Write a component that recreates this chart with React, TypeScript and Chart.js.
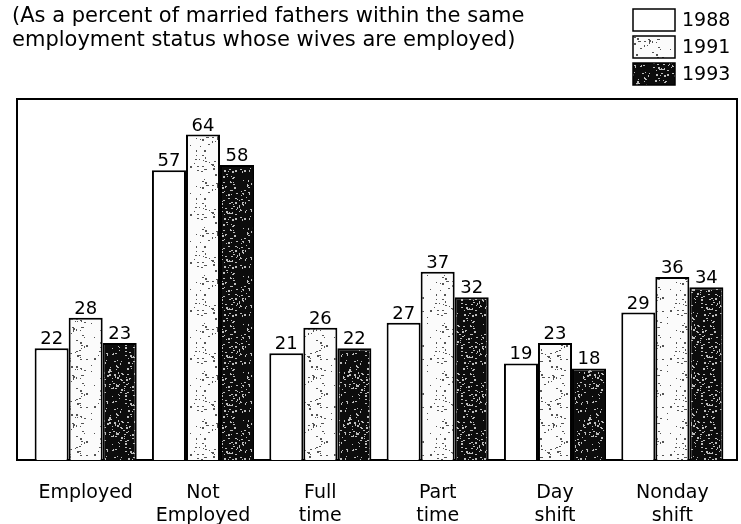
import React, { useEffect, useRef } from "react";
import { Chart, registerables } from "chart.js";

Chart.register(...registerables);

const categories: (string | string[])[] = [
  "Employed",
  ["Not", "Employed"],
  ["Full", "time"],
  ["Part", "time"],
  ["Day", "shift"],
  ["Nonday", "shift"],
];
const years = ["1988", "1991", "1993"];
const values1988 = [22, 57, 21, 27, 19, 29];
const values1991 = [28, 64, 26, 37, 23, 36];
const values1993 = [23, 58, 22, 32, 18, 34];
const titleLines = [
  "(As a percent of married fathers within the same",
  "employment status whose wives are employed)",
];
const yMax = 71;

const FONT = "'DejaVu Sans', 'Liberation Sans', sans-serif";

function makePattern(bg: string, dot: string, count: number, seed: number): CanvasPattern | string {
  const c = document.createElement("canvas");
  c.width = 48;
  c.height = 48;
  const ctx = c.getContext("2d");
  if (!ctx) return bg;
  ctx.fillStyle = bg;
  ctx.fillRect(0, 0, 48, 48);
  let s = seed;
  const next = () => {
    s = (s * 1103515245 + 12345) % 2147483648;
    return s / 2147483648;
  };
  ctx.fillStyle = dot;
  for (let i = 0; i < count; i++) {
    const x = Math.floor(next() * 48);
    const y = Math.floor(next() * 48);
    const w = next() < 0.5 ? 1 : 2;
    ctx.fillRect(x, y, w, 1 + (next() < 0.3 ? 1 : 0));
  }
  const p = ctx.createPattern(c, "repeat");
  return p || bg;
}

export default function App() {
  const ref = useRef<HTMLCanvasElement | null>(null);

  useEffect(() => {
    document.body.style.margin = "0";
    const canvas = ref.current;
    if (!canvas) return;

    const white = "#ffffff";
    const light = makePattern("#fbfbfb", "#555555", 70, 12345);
    const dark = makePattern("#0c0c0c", "#bdbdbd", 140, 98765);

    const framePlugin = {
      id: "frame",
      beforeDatasetsDraw(chart: any) {
        const { ctx, chartArea } = chart;
        ctx.save();
        ctx.strokeStyle = "#000";
        ctx.lineWidth = 2;
        ctx.strokeRect(chartArea.left - 10, chartArea.top, chartArea.right - chartArea.left + 16, chartArea.bottom - chartArea.top);
        ctx.restore();
      },
    };

    const labelPlugin = {
      id: "valueLabels",
      afterDatasetsDraw(chart: any) {
        const { ctx } = chart;
        ctx.save();
        ctx.fillStyle = "#000";
        ctx.font = `18px ${FONT}`;
        ctx.textAlign = "center";
        ctx.textBaseline = "alphabetic";
        chart.data.datasets.forEach((ds: any, di: number) => {
          const meta = chart.getDatasetMeta(di);
          meta.data.forEach((el: any, i: number) => {
            ctx.fillText(String(ds.data[i]), el.x, el.y - 4);
          });
        });
        ctx.restore();
      },
    };

    const headerPlugin = {
      id: "header",
      afterDraw(chart: any) {
        const { ctx } = chart;
        ctx.save();
        ctx.fillStyle = "#000";
        ctx.textAlign = "left";
        ctx.textBaseline = "alphabetic";
        ctx.font = `21px ${FONT}`;
        ctx.fillText(titleLines[0], 12, 22);
        ctx.fillText(titleLines[1], 12, 46);
        const fills = [white, light, dark];
        ctx.font = `19px ${FONT}`;
        years.forEach((y, i) => {
          const top = 9 + i * 27;
          ctx.fillStyle = fills[i] as any;
          ctx.fillRect(633, top, 42, 22);
          ctx.strokeStyle = "#000";
          ctx.lineWidth = 1.5;
          ctx.strokeRect(633, top, 42, 22);
          ctx.fillStyle = "#000";
          ctx.textBaseline = "middle";
          ctx.fillText(y, 682, top + 12);
        });
        ctx.restore();
      },
    };

    const chart = new Chart(canvas, {
      type: "bar",
      data: {
        labels: categories as any,
        datasets: [
          { label: years[0], data: values1988, backgroundColor: white, borderColor: "#000", borderWidth: 2 },
          { label: years[1], data: values1991, backgroundColor: light as any, borderColor: "#000", borderWidth: 2 },
          { label: years[2], data: values1993, backgroundColor: dark as any, borderColor: "#000", borderWidth: 2 },
        ],
      },
      options: {
        animation: false,
        responsive: false,
        events: [],
        layout: { padding: { top: 99, left: 27, right: 10, bottom: 0 } },
        datasets: { bar: { categoryPercentage: 0.87, barPercentage: 1.0 } },
        plugins: {
          legend: { display: false },
          title: { display: false },
          tooltip: { enabled: false },
        },
        scales: {
          x: {
            grid: { display: false },
            border: { display: false },
            afterFit: (scale: any) => {
              scale.height = 64;
            },
            ticks: {
              color: "#000",
              padding: 14,
              maxRotation: 0,
              autoSkip: false,
              font: { family: FONT, size: 19, lineHeight: 1.2 },
            },
          },
          y: { display: false, min: 0, max: yMax },
        },
      },
      plugins: [framePlugin, labelPlugin, headerPlugin],
    });

    return () => chart.destroy();
  }, []);

  return (
    <div style={{ position: "relative", width: 741, height: 524, background: "#fff" }}>
      <canvas ref={ref} width={741} height={524} style={{ display: "block" }} />
    </div>
  );
}
